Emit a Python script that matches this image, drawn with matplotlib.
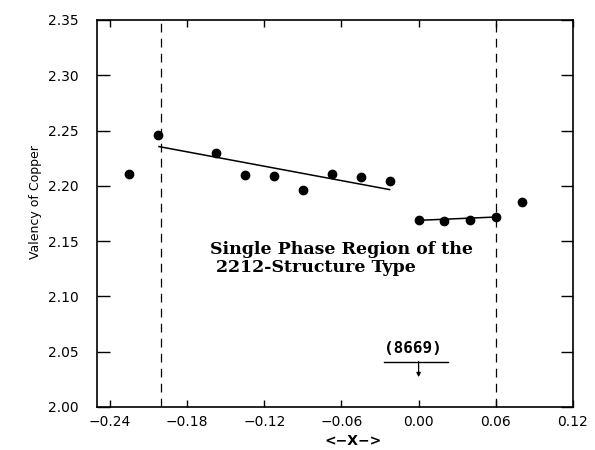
import matplotlib
matplotlib.use("Agg")
import matplotlib.pyplot as plt

# measured valency of copper vs. x
x_pts = [-0.225, -0.2025, -0.1575, -0.135, -0.1125, -0.09, -0.0675, -0.045, -0.0225,
         0.00, 0.02, 0.04, 0.06, 0.08]
valency = [2.211, 2.246, 2.230, 2.210, 2.209, 2.196, 2.211, 2.208, 2.204,
           2.169, 2.168, 2.169, 2.172, 2.185]

# fitted segments (endpoints)
fit_left_x = [-0.2018, -0.0225]
fit_left_y = [2.2355, 2.1966]
fit_right_x = [0.00, 0.06]
fit_right_y = [2.1688, 2.1718]

# phase boundaries
boundaries = [-0.20, 0.06]

xticks = [-0.24, -0.18, -0.12, -0.06, 0.00, 0.06, 0.12]
yticks = [2.00, 2.05, 2.10, 2.15, 2.20, 2.25, 2.30, 2.35]

fig = plt.figure(figsize=(5.95, 4.5), dpi=100)
ax = fig.add_axes([0.163, 0.0956, 0.800, 0.860])

ax.plot(x_pts, valency, "o", color="black", markersize=6)
ax.plot(fit_left_x, fit_left_y, color="black", lw=1.1)
ax.plot(fit_right_x, fit_right_y, color="black", lw=1.1)
for b in boundaries:
    ax.axvline(b, color="black", lw=0.9, linestyle=(0, (7, 5)))

ax.text(-0.1625, 2.134, "Single Phase Region of the\n 2212-Structure Type",
        family="DejaVu Serif", fontweight="bold", fontsize=12.5,
        va="center", ha="left", linespacing=1.05)

# (8669) marker
ax.text(-0.0045, 2.053, "(8669)", family="DejaVu Sans Mono", fontweight="bold",
        fontsize=11.5, ha="center", va="center")
ax.plot([-0.027, 0.0225], [2.041, 2.041], color="black", lw=1.0)
ax.annotate("", xy=(0.0, 2.027), xytext=(0.0, 2.041),
            arrowprops=dict(arrowstyle="-|>", color="black", lw=0.9,
                            mutation_scale=6, shrinkA=0, shrinkB=0))

ax.set_xlim(-0.25, 0.12)
ax.set_ylim(2.00, 2.35)
ax.set_xticks(xticks)
ax.set_xticklabels([f"{t:.2f}".replace("-", "\u2212") for t in xticks])
ax.set_yticks(yticks)
ax.set_yticklabels([f"{t:.2f}" for t in yticks])
ax.tick_params(axis="both", direction="in", labelsize=10, top=True, right=True,
               width=1.0)
ax.tick_params(axis="y", length=9, pad=13)
ax.tick_params(axis="x", length=5, pad=6)
for s in ax.spines.values():
    s.set_linewidth(1.2)

ax.set_xlabel("<\u2212X\u2212>", fontsize=10, fontweight="bold", va="center")
ax.xaxis.set_label_coords(0.538, -0.088)
ax.set_ylabel("Valency of Copper", fontsize=9, va="center")
ax.yaxis.set_label_coords(-0.130, 0.53)

fig.savefig("out.png", dpi=100)
